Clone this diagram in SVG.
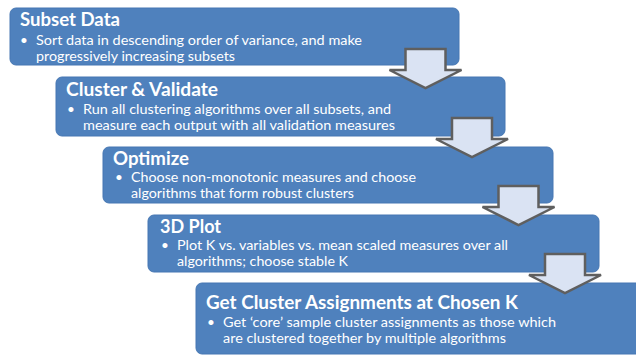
<svg xmlns="http://www.w3.org/2000/svg" width="636" height="356" viewBox="0 0 636 356">
  <style>
    .box { fill: #4f81bd; stroke: #4677b3; stroke-width: 1; }
    .title { font-family: Lato, "Open Sans", "Liberation Sans", sans-serif; font-weight: bold; font-size: 18.5px; fill: #ffffff; }
    .body { font-family: Lato, "Open Sans", "Liberation Sans", sans-serif; font-size: 13.5px; fill: #ffffff; }
    .arrow { fill: #dae3f3; stroke: #5f5f5f; stroke-width: 2.5; stroke-linejoin: miter; }
  </style>
  <defs>
    <!-- block arrow pointing down, origin at the shaft's top centre -->
    <path id="downArrow" d="M -20 0 L 20 0 L 20 21 L 36 21 L 0 39 L -36 21 L -20 21 Z"/>
  </defs>
  <rect width="636" height="356" fill="#ffffff"/>

  <g id="subset-data">
    <rect class="box" x="10" y="8" width="449" height="57" rx="6"/>
    <text class="title" x="20" y="26" textLength="100" lengthAdjust="spacingAndGlyphs">Subset Data</text>
    <text class="body" x="20" y="45">•</text>
    <text class="body" x="36" y="45" textLength="326" lengthAdjust="spacingAndGlyphs">Sort data in descending order of variance, and make</text>
    <text class="body" x="36" y="61" textLength="199" lengthAdjust="spacingAndGlyphs">progressively increasing subsets</text>
  </g>

  <g id="cluster-validate">
    <rect class="box" x="56" y="77" width="449" height="59" rx="6"/>
    <text class="title" x="66" y="96" textLength="152" lengthAdjust="spacingAndGlyphs">Cluster &amp; Validate</text>
    <text class="body" x="67" y="114">•</text>
    <text class="body" x="83" y="114" textLength="308" lengthAdjust="spacingAndGlyphs">Run all clustering algorithms over all subsets, and</text>
    <text class="body" x="83" y="130" textLength="312" lengthAdjust="spacingAndGlyphs">measure each output with all validation measures</text>
  </g>

  <g id="optimize">
    <rect class="box" x="103" y="147" width="450" height="56" rx="6"/>
    <text class="title" x="113" y="165" textLength="76" lengthAdjust="spacingAndGlyphs">Optimize</text>
    <text class="body" x="115" y="182">•</text>
    <text class="body" x="131" y="182" textLength="285" lengthAdjust="spacingAndGlyphs">Choose non-monotonic measures and choose</text>
    <text class="body" x="131" y="198" textLength="223" lengthAdjust="spacingAndGlyphs">algorithms that form robust clusters</text>
  </g>

  <g id="plot-3d">
    <rect class="box" x="148" y="215" width="451" height="57" rx="6"/>
    <text class="title" x="160" y="233" textLength="61" lengthAdjust="spacingAndGlyphs">3D Plot</text>
    <text class="body" x="161" y="250">•</text>
    <text class="body" x="177" y="250" textLength="331" lengthAdjust="spacingAndGlyphs">Plot K vs. variables vs. mean scaled measures over all</text>
    <text class="body" x="177" y="266" textLength="171" lengthAdjust="spacingAndGlyphs">algorithms; choose stable K</text>
  </g>

  <g id="cluster-assignments">
    <rect class="box" x="196" y="283" width="452" height="71" rx="6"/>
    <text class="title" x="206" y="309" textLength="312" lengthAdjust="spacingAndGlyphs">Get Cluster Assignments at Chosen K</text>
    <text class="body" x="207" y="327">•</text>
    <text class="body" x="223" y="327" textLength="333" lengthAdjust="spacingAndGlyphs">Get ‘core’ sample cluster assignments as those which</text>
    <text class="body" x="223" y="343" textLength="283" lengthAdjust="spacingAndGlyphs">are clustered together by multiple algorithms</text>
  </g>

  <g id="connectors">
    <use href="#downArrow" class="arrow" x="425.5" y="49"/>
    <use href="#downArrow" class="arrow" x="472" y="118"/>
    <use href="#downArrow" class="arrow" x="518.5" y="186"/>
    <use href="#downArrow" class="arrow" x="565" y="254"/>
  </g>
</svg>
